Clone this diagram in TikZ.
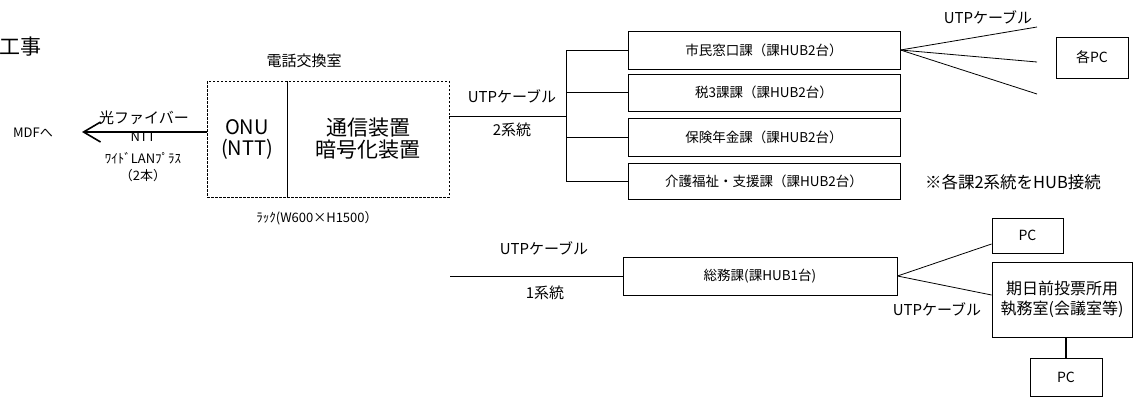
\documentclass[tikz,border=0pt]{standalone}
\usepackage{fontspec}
\setmainfont{Noto Sans CJK JP}
\usetikzlibrary{arrows.meta}

\begin{document}
\begin{tikzpicture}[x=1pt, y=-1pt, line width=0.8pt,
    hubbox/.style={draw, line width=0.9pt, minimum width=272pt, minimum height=37pt, inner sep=0pt, font=\fontsize{13.5}{16}\selectfont},
    pcbox/.style={draw, line width=0.9pt, minimum width=72pt, minimum height=38pt, inner sep=0pt, font=\fontsize{14}{16}\selectfont},
    rack/.style={draw, dash pattern=on 2.5pt off 1.5pt, line width=0.8pt, minimum height=116pt, inner sep=0pt, align=center},
    lbl/.style={inner sep=0pt, font=\fontsize{15}{17}\selectfont},
    tiny/.style={inner sep=0pt, font=\fontsize{13}{15}\selectfont}]
    \useasboundingbox (0,0) rectangle (1134,397);
    \node[lbl, anchor=west, font=\fontsize{21}{22}\selectfont] (koji) at (-1,47) {工事};
    % rack in the exchange room
    \node[lbl] (room) at (304,61) {電話交換室};
    \node[rack, minimum width=80pt, font=\fontsize{20}{21}\selectfont] (onu) at (247,139) {ONU\\(NTT)};
    \node[rack, minimum width=162pt, font=\fontsize{21}{22}\selectfont] (crypto) at (368,139) {通信装置\\暗号化装置};
    \node[tiny] (racksize) at (317,218) {ﾗｯｸ(W600×H1500）};
    % fiber out to the MDF
    \node[tiny] (mdf) at (33,133) {MDFへ};
    \coordinate (fibertip) at (82,132);
    \draw[line width=1.6pt, -{Straight Barb[length=17pt, width=20pt]}] ([yshift=7pt]onu.west) -- (fibertip);
    \node[lbl] (fiber) at (144,118) {光ファイバー};
    \node[tiny] (ntt) at (143,137) {NTT};
    \node[tiny] (wide) at (143,158) {ﾜｲﾄﾞLANﾌﾟﾗｽ};
    \node[tiny] (two) at (143,176) {（2本）};
    % two lines to the section hubs
    \coordinate (bus) at (566,116);
    \draw ([yshift=23pt]crypto.east) -- (bus);
    \node[lbl] (utp1) at (512,96) {UTPケーブル};
    \node[lbl] (sys2) at (512,130) {2系統};
    \node[hubbox, minimum height=38pt] (hub1) at (764,50) {市民窓口課（課HUB2台）};
    \node[hubbox] (hub2) at (764,92.5) {税3課課（課HUB2台）};
    \node[hubbox, minimum height=38pt] (hub3) at (764,137) {保険年金課（課HUB2台）};
    \node[hubbox, minimum height=36pt] (hub4) at (764,181) {介護福祉・支援課（課HUB2台）};
    \draw (hub1.west -| bus) -- (hub4.west -| bus);
    \draw (hub1.west) -- (hub1.west -| bus);
    \draw (hub2.west) -- (hub2.west -| bus);
    \draw (hub3.west) -- (hub3.west -| bus);
    \draw (hub4.west) -- (hub4.west -| bus);
    % fan out to the PCs
    \node[lbl] (utp2) at (988,17) {UTPケーブル};
    \coordinate (pcA) at (1037,27);
    \coordinate (pcB) at (1037,62);
    \coordinate (pcC) at (1037,94);
    \draw (hub1.east) -- (pcA);
    \draw (hub1.east) -- (pcB);
    \draw (hub1.east) -- (pcC);
    \node[pcbox, minimum height=41pt] (eachpc) at (1092,57.5) {各PC};
    \node[lbl, font=\fontsize{16.5}{18}\selectfont] (note) at (1013,182) {※各課2系統をHUB接続};
    % one line to general affairs
    \coordinate (trunk) at (450,276);
    \node[hubbox, minimum width=274pt, minimum height=38pt] (somu) at (760,276) {総務課(課HUB1台)};
    \draw (trunk) -- (somu);
    \node[lbl] (utp3) at (544,248) {UTPケーブル};
    \node[lbl] (sys1) at (545,293) {1系統};
    \node[pcbox, minimum width=71pt, minimum height=35pt] (pctop) at (1027.5,235.5) {PC};
    \node[pcbox, minimum width=140pt, minimum height=75pt, align=center, font=\fontsize{16}{20}\selectfont] (kijitsu) at (1062,299.5) {期日前投票所用\\執務室(会議室等)};
    \draw (somu.east) -- ([yshift=-8.5pt]pctop.west);
    \draw (somu.east) -- ([yshift=4.5pt]kijitsu.west);
    \node[lbl] (utp4) at (937,309) {UTPケーブル};
    \node[pcbox] (pcbot) at (1066,377) {PC};
    \draw[line width=2pt] (pcbot.north) -- (pcbot.north |- kijitsu.south);
\end{tikzpicture}
\end{document}
